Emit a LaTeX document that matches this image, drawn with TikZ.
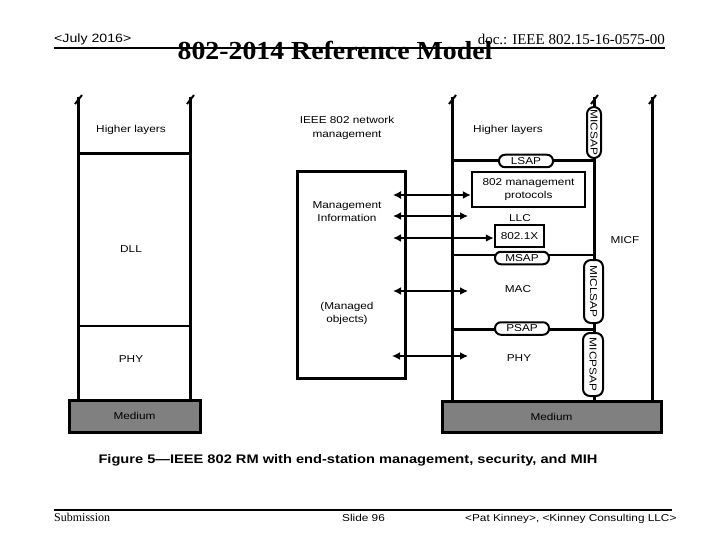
\documentclass[tikz,border=0pt]{standalone}
\usepackage{fontspec}
\setmainfont{Liberation Serif}
\newfontfamily\ar[FakeStretch=1.18]{Liberation Sans}
\newfontfamily\tmx[FakeStretch=1.07]{Liberation Serif}
\usetikzlibrary{arrows.meta}
\definecolor{medgray}{RGB}{128,128,128}
\tikzset{
  stk/.style={line width=3pt},
  thinl/.style={line width=1.5pt},
  tk/.style={line width=2pt},
  lbl/.style={font=\ar\fontsize{10}{13.5}\selectfont, inner sep=0pt, align=center},
  hsap/.style={draw, line width=2pt, fill=white, rounded corners=6pt, inner sep=0pt,
    minimum width=54pt, minimum height=12.5pt, font=\ar\fontsize{10}{12}\selectfont},
  vsap/.style={draw, line width=2pt, fill=white, rounded corners=7pt, inner sep=0pt,
    font=\ar\fontsize{10}{12}\selectfont},
  boxx/.style={draw, line width=2.5pt, inner sep=0pt, align=center,
    font=\ar\fontsize{10}{13.5}\selectfont},
  medium/.style={draw, line width=3pt, fill=medgray, inner sep=0pt,
    font=\ar\fontsize{10}{12}\selectfont},
  dbl/.style={{Latex[length=8pt,width=8pt]}-{Latex[length=8pt,width=8pt]}, line width=2.5pt},
}
\begin{document}
\begin{tikzpicture}[x=1pt,y=-1pt]
\useasboundingbox (0,0) rectangle (720,540);
% header
\draw[line width=2.5pt] (54,48) -- (665,48);
\node[font=\ar\fontsize{12}{14}\selectfont, anchor=base west, inner sep=0pt] (date) at (54,43) {<July 2016>};
\node[font=\tmx\bfseries\fontsize{26}{30}\selectfont, anchor=base, inner sep=0pt] (title) at (335,60) {802-2014 Reference Model};
\node[font=\fontsize{15}{18}\selectfont, anchor=base east, inner sep=0pt] (doc) at (665,45) {doc.: IEEE 802.15-16-0575-00};
% footer
\draw[line width=2.5pt] (54,510) -- (672,510);
\node[font=\fontsize{12}{14}\selectfont, anchor=base west, inner sep=0pt] (sub) at (54,521) {Submission};
\node[font=\ar\fontsize{10}{12}\selectfont, anchor=base west, inner sep=0pt] (slide) at (342,521) {Slide 96};
\node[font=\ar\fontsize{10}{12}\selectfont, anchor=base west, inner sep=0pt] (auth) at (465,521) {<Pat Kinney>, <Kinney Consulting LLC>};
% caption
\node[font=\ar\bfseries\fontsize{12.4}{15}\selectfont, inner sep=0pt] (cap) at (348,460) {Figure 5—IEEE 802 RM with end-station management, security, and MIH};

% ===== left stack =====
\coordinate (L1t) at (78,97); \coordinate (L1b) at (78,400);
\coordinate (L2t) at (190,97); \coordinate (L2b) at (190,400);
\draw[stk] (L1t) -- (L1b);
\draw[stk] (L2t) -- (L2b);
\draw[stk] (78,154) -- (190,154);
\draw[thinl] (78,326) -- (190,326);
\node[medium, minimum width=131pt, minimum height=32pt] (medL) at (134.5,416) {Medium};
\node[lbl] (hlL) at (131,130) {Higher layers};
\node[lbl] (dll) at (131,249) {DLL};
\node[lbl] (phyL) at (131,359) {PHY};

% ===== management =====
\node[lbl] (nm) at (347,128) {IEEE 802 network\\management};
\node[draw, line width=3pt, minimum width=108pt, minimum height=206pt, inner sep=0pt] (mgmt) at (351,275) {};
\node[lbl] (mi) at (347,211.5) {Management\\Information};
\node[lbl] (mo) at (347,313.5) {(Managed\\objects)};

% ===== right stack =====
\coordinate (R1t) at (452,97); \coordinate (R1b) at (452,401);
\coordinate (R2t) at (594,97); \coordinate (R2b) at (594,401);
\coordinate (R3t) at (652,97); \coordinate (R3b) at (652,401);
\draw[stk] (R1t) -- (R1b);
\draw[stk] (R2t) -- (R2b);
\draw[stk] (R3t) -- (R3b);
\draw[stk] (452,161) -- (594,161);
\draw[thinl] (452,255) -- (594,255);
\draw[stk] (452,329.5) -- (594,329.5);
\node[medium, minimum width=219pt, minimum height=31pt] (medR) at (551.5,416.5) {Medium};

% ticks
\foreach \x in {78,190,452,594,652}
  \draw[tk] (\x-3,104) -- (\x+4,95);

\node[lbl] (hlR) at (508,130) {Higher layers};
\node[hsap] (lsap) at (526,161) {LSAP};
\node[boxx, minimum width=113pt, minimum height=35pt] (proto) at (528.5,189.5) {802 management\\protocols};
\node[lbl] (llc) at (520,218) {LLC};
\node[boxx, minimum width=49pt, minimum height=22pt] (dot1x) at (519.5,236) {802.1X};
\node[hsap] (msap) at (522,258) {MSAP};
\node[lbl] (mac) at (518,289) {MAC};
\node[hsap] (psap) at (522,328.5) {PSAP};
\node[lbl] (phyR) at (519,358) {PHY};
\node[lbl] (micf) at (625,240) {MICF};

\node[vsap, minimum width=14pt, minimum height=51pt] (micsap) at (594,132.5) {\rotatebox{-90}{MICSAP}};
\node[vsap, minimum width=19pt, minimum height=63pt] (miclsap) at (593.5,291.5) {\rotatebox{-90}{MICLSAP}};
\node[vsap, minimum width=20pt, minimum height=63pt] (micpsap) at (593,364.5) {\rotatebox{-90}{MICPSAP}};

% ===== arrows =====
\coordinate (a1) at (393,195);
\coordinate (a2) at (393,216); \coordinate (b2) at (468,216);
\coordinate (a3) at (393,238);
\coordinate (a4) at (393,291); \coordinate (b4) at (468,291);
\coordinate (a5) at (392,356); \coordinate (b5) at (468,356);
\draw[dbl, line width=1.2pt] (a1) -- (a1 -| proto.west);
\draw[dbl] (a2) -- (b2);
\draw[dbl] (a3) -- (a3 -| dot1x.west);
\draw[dbl] (a4) -- (b4);
\draw[dbl] (a5) -- (b5);
\end{tikzpicture}
\end{document}
